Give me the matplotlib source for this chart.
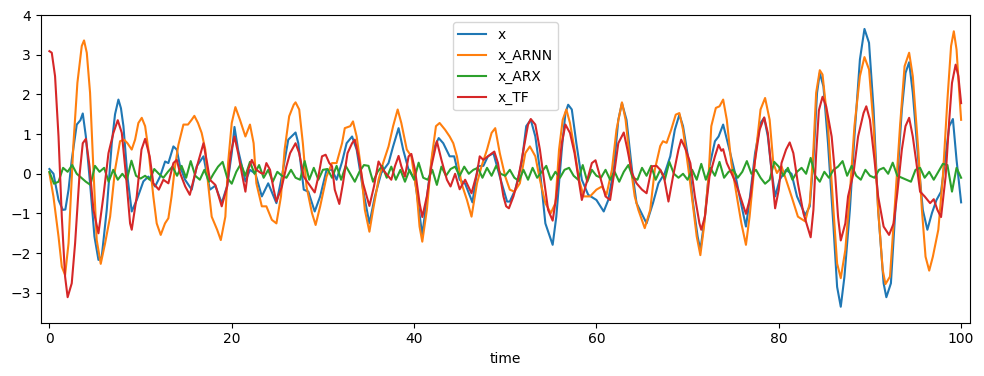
import numpy as np
import matplotlib
matplotlib.use('Agg')
import matplotlib.pyplot as plt

# x - odczytane punkty (czas, wartosc)
t_x = [0.0, 0.45, 1.0, 1.47, 1.75, 2.1, 2.45, 3.0, 3.4, 3.66, 4.0, 4.46, 4.94, 5.38, 5.74,
       6.29, 6.84, 7.2, 7.57, 7.85, 8.12, 8.56, 9.03, 9.58, 10.31, 10.86, 11.59, 12.14, 12.69,
       13.05, 13.6, 13.97, 14.33, 14.88, 15.61, 16.16, 16.9, 17.6, 18.2, 18.9, 19.5, 20.0, 20.3,
       20.7, 21.5, 22.0, 22.6, 23.3, 24.0, 24.9, 25.5, 26.2, 27.0, 27.3, 27.9, 28.4, 29.1, 29.7,
       30.4, 31.0, 31.5, 32.1, 32.6, 33.2, 33.7, 34.4, 35.1, 35.7, 36.4, 37.2, 37.7, 38.3, 38.8,
       39.4, 40.1, 40.9, 41.6, 42.1, 42.7, 43.2, 43.9, 44.4, 45.0, 45.6, 46.4, 47.0, 47.6, 48.1,
       48.7, 49.4, 50.2, 50.5, 51.1, 51.8, 52.3, 52.8, 53.3, 53.8, 54.4, 55.2, 55.6, 56.2, 56.6,
       56.9, 57.3, 57.8, 58.4, 59.1, 60.0, 60.8, 61.3, 61.9, 62.4, 62.8, 63.3, 63.9, 64.4, 65.5,
       66.2, 66.8, 67.5, 68.1, 68.6, 69.1, 69.5, 70.1, 70.6, 71.1, 71.4, 71.9, 72.4, 73.0, 73.4,
       73.9, 74.5, 75.2, 75.7, 76.4, 76.8, 77.4, 78.0, 78.4, 78.8, 79.2, 79.6, 80.1, 80.8, 81.4,
       82.0, 82.9, 83.4, 83.8, 84.2, 84.5, 84.9, 85.4, 86.0, 86.4, 86.8, 87.2, 87.8, 88.3, 88.9,
       89.4, 89.9, 90.4, 90.9, 91.5, 91.8, 92.3, 92.9, 93.5, 93.9, 94.3, 94.7, 95.3, 95.8, 96.3,
       96.8, 97.3, 97.8, 98.2, 98.7, 99.1, 99.5, 100.0]
x = [0.12, 0.0, -0.66, -0.91, -0.9, -0.4, 0.35, 1.24, 1.35, 1.52, 0.94, -0.24, -1.58, -2.17, -2.09,
     -0.91, 0.77, 1.5, 1.87, 1.65, 1.2, -0.07, -0.95, -0.66, -0.19, -0.07, -0.32, -0.07, 0.31,
     0.27, 0.69, 0.61, 0.19, -0.15, -0.4, 0.19, 0.44, -0.4, -0.3, -0.74, -0.3, 0.52, 1.18,
     0.6, -0.19, 0.1, 0.0, -0.57, -0.24, -0.74, -0.07, 0.86, 1.04, 0.77, -0.4, -0.45, -0.95, -0.57,
     0.1, 0.1, -0.15, 0.3, 0.77, 0.94, 0.61, -0.4, -1.25, -0.57, 0.02, 0.27, 0.69, 1.15, 0.61,
     0.1, -0.15, -1.55, -0.24, 0.61, 0.9, 0.77, 0.44, 0.44, -0.15, -0.25, -0.72, 0.19, 0.2, 0.44,
     0.52, -0.07, -0.7, -0.7, -0.4, 0.27, 1.2, 1.36, 0.94, 0.1, -1.25, -1.79, -1.08, 0.61, 1.53,
     1.74, 1.62, 0.77, -0.15, -0.53, -0.66, -0.95, -0.66, 0.1, 1.36, 1.78, 1.36, 0.1, -0.74, -1.25,
     -0.74, -0.24, 0.02, 0.44, 1.11, 1.49, 1.2, 0.35, -0.74, -1.58, -1.92, -1.08, 0.19, 0.82, 0.94,
     1.24, 0.69, 0.02, -0.57, -1.33, -0.66, 0.52, 1.28, 1.41, 0.94, 0.1, -0.57, -0.15, 0.1, 0.0,
     -0.57, -1.04, -0.82, 0.35, 2.04, 2.54, 2.2, 0.77, -1.33, -2.85, -3.35, -2.6, -0.91, 0.94, 2.88,
     3.65, 3.3, 1.62, -0.91, -2.76, -3.11, -2.76, -0.49, 1.62, 2.54, 2.81, 2.04, 0.35, -0.91, -1.41,
     -0.99, -0.66, -0.45, 0.27, 1.2, 1.38, 0.35, -0.72]

# x_ARNN
t_arnn = [0, 0.44, 1.0, 1.36, 1.72, 2.1, 2.64, 3.07, 3.55, 3.8, 4.1, 4.46, 4.83, 5.19, 5.63, 6.11,
          6.66, 7.2, 7.75, 8.19, 8.56, 9.03, 9.4, 9.76, 10.13, 10.5, 10.86, 11.4, 11.77, 12.21, 12.68,
          13.05, 13.4, 13.78, 14.15, 14.7, 15.2, 15.6, 15.9, 16.3, 16.7, 17.1, 17.4, 17.8, 18.4,
          18.8, 19.3, 19.6, 20.0, 20.4, 20.9, 21.5, 22.0, 22.4, 22.7, 23.3, 23.8, 24.4, 24.9, 25.4,
          25.8, 26.3, 26.8, 27.0, 27.4, 27.8, 28.2, 28.8, 29.2, 29.7, 30.4, 31.0, 31.5, 32.1, 32.4,
          33.0, 33.3, 33.7, 34.1, 34.6, 35.1, 35.5, 36.1, 36.6, 37.2, 37.7, 38.2, 38.6, 39.2, 39.7,
          40.3, 40.6, 40.9, 41.4, 41.9, 42.4, 42.8, 43.4, 43.9, 44.3, 44.7, 45.2, 45.8, 46.3, 46.9,
          47.4, 48.0, 48.5, 48.9, 49.4, 50.0, 50.5, 51.0, 51.6, 52.2, 52.7, 53.3, 53.8, 54.4, 55.0,
          55.5, 55.9, 56.3, 56.7, 57.1, 57.6, 58.1, 58.6, 59.3, 60.0, 60.6, 61.1, 61.7, 62.2, 62.8,
          63.2, 63.7, 64.2, 64.6, 65.3, 65.9, 66.4, 67.0, 67.3, 67.7, 68.2, 68.7, 69.1, 69.5, 70.1,
          70.6, 71.0, 71.4, 71.8, 72.3, 72.6, 73.1, 73.5, 73.9, 74.3, 74.8, 75.4, 75.9, 76.4, 76.8,
          77.4, 78.0, 78.5, 79.0, 79.4, 79.8, 80.3, 80.8, 81.4, 82.1, 82.9, 83.4, 83.8, 84.1, 84.5,
          84.8, 85.4, 86.0, 86.4, 86.8, 87.3, 87.8, 88.3, 88.9, 89.4, 89.9, 90.4, 90.9, 91.4, 91.7,
          92.2, 92.7, 93.3, 93.8, 94.3, 94.7, 95.3, 95.7, 96.1, 96.5, 96.9, 97.5, 98.0, 98.5, 98.9,
          99.2, 99.5, 99.8, 100.0]
x_arnn = [0.02, -0.57, -1.58, -2.34, -2.55, -1.75, 0.77, 2.29, 3.22, 3.36, 3.05, 2.04, 0.1, -1.67, -2.27, -1.75,
          -1.08, 0.1, 0.82, 0.86, 0.77, 0.61, 0.86, 1.28, 1.41, 1.2, 0.61, -0.57, -1.25, -1.54, -1.25,
          -1.12, -0.57, 0.19, 0.73, 1.24, 1.24, 1.36, 1.46, 1.28, 1.03, 0.61, -0.24, -1.08, -1.41,
          -1.67, -1.08, 0.27, 1.28, 1.68, 1.36, 0.94, 1.24, 0.77, -0.24, -0.82, -0.82, -1.16, -1.25, -0.57,
          0.61, 1.45, 1.74, 1.8, 1.62, 0.77, -0.32, -0.99, -1.29, -0.82, -0.07, 0.27, 0.27, 0.77, 1.15,
          1.2, 1.32, 0.94, 0.27, -0.91, -1.46, -0.91, -0.15, 0.27, 0.69, 1.2, 1.62, 1.28, 0.61, 0.44,
          -0.49, -1.33, -1.71, -0.91, 0.35, 1.2, 1.28, 1.11, 0.94, 0.77, 0.44, -0.24, -0.66, -1.08, -0.24,
          0.19, 0.61, 1.03, 1.15, 0.52, -0.07, -0.4, -0.45, -0.24, 0.52, 0.69, 0.44, -0.15, -0.74, -0.99,
          -0.74, 0.61, 1.36, 1.62, 1.28, 0.61, -0.15, -0.57, -0.57, -0.4, -0.32, -0.53, 0.1, 1.11, 1.8,
          1.36, 0.27, -0.57, -0.91, -1.37, -0.91, 0.1, 0.7, 0.82, 0.78, 1.11, 1.49, 1.53, 1.11, 0.1,
          -0.82, -1.58, -2.05, -1.33, -0.07, 1.2, 1.66, 1.7, 1.87, 1.36, 0.27, -0.57, -1.25, -1.79, -1.08,
          0.35, 1.62, 1.91, 1.36, 0.27, 0.02, 0.19, -0.15, -0.57, -1.08, -1.2, -0.74, 0.61, 2.04, 2.61,
          2.5, 1.2, -0.91, -2.26, -2.63, -1.92, -0.49, 1.2, 2.46, 2.94, 2.63, 1.2, -0.91, -2.42, -2.78,
          -2.59, -0.91, 1.2, 2.71, 3.05, 2.46, 0.61, -0.91, -2.09, -2.44, -2.09, -1.41, -0.07, 1.87, 3.22,
          3.59, 3.13, 2.04, 1.36]

# x_ARX - co 0.5
t_arx = np.arange(0, 100.5, 0.5)
x_arx = [0.05, -0.25, -0.2, 0.15, 0.05, 0.22, 0.0, -0.1, -0.2, -0.28,
         0.2, 0.05, 0.15, -0.2, 0.1, -0.15, 0.0, -0.15, 0.33, -0.05,
         -0.12, -0.05, -0.15, 0.12, 0.0, -0.1, 0.05, 0.18, -0.05, 0.2,
         -0.1, 0.32, -0.05, -0.15, 0.1, -0.2, 0.0, 0.18, 0.3, -0.1,
         -0.25, 0.05, 0.25, -0.05, 0.3, 0.0, 0.22, -0.1, 0.1, -0.2,
         0.05, -0.05, -0.1, 0.1, -0.1, -0.15, 0.32, -0.15, 0.15, -0.15,
         0.1, 0.12, -0.1, 0.2, -0.15, 0.2, 0.0, -0.2, 0.05, 0.22,
         0.2, -0.2, 0.05, 0.2, -0.1, 0.18, -0.15, 0.1, -0.2, 0.1,
         -0.15, 0.28, -0.1, -0.15, 0.1, -0.28, 0.18, -0.05, 0.12, 0.18,
         -0.05, 0.18, 0.0, 0.1, 0.15, -0.1, 0.15, -0.05, 0.2, 0.0,
         -0.05,
         0.1, -0.1, -0.18, 0.1, -0.15, 0.15, -0.1, 0.05, 0.2, -0.15,
         0.05, -0.1, 0.1, 0.15, -0.05, -0.15, 0.22, -0.2, 0.1, -0.05,
         -0.1, 0.1, -0.15, 0.05, -0.2, 0.05, 0.22, -0.1, -0.15, 0.15,
         -0.05, 0.2, -0.15, 0.1, -0.15, 0.3, 0.0, -0.1, 0.0, -0.15,
         0.1, -0.15, 0.25, -0.15, 0.15, -0.05, 0.3, -0.1, 0.05, 0.1,
         -0.1, 0.05,
         0.32, 0.0, 0.1, -0.1, -0.25, -0.15, 0.3, 0.18, -0.05, 0.15,
         -0.15, 0.05, 0.15, 0.0, 0.4, -0.05, -0.2, 0.05, -0.1, 0.1,
         0.18, 0.32, -0.05, 0.2, -0.05, -0.15, 0.1, -0.05, -0.1, 0.1,
         0.15, 0.0, 0.28, -0.05, -0.1, -0.15, -0.2, 0.1, 0.15, -0.1,
         0.05, -0.15, 0.05, 0.25, 0.22, -0.45, 0.15, -0.1]

# x_TF
t_tf = [0, 0.26, 0.62, 1.0, 1.36, 1.72, 2.0, 2.45, 2.82, 3.29, 3.66, 4.0, 4.4, 4.83, 5.38, 5.92,
        6.48, 7.02, 7.5, 7.94, 8.41, 8.85, 9.03, 9.58, 10.1, 10.5, 11.0, 11.4, 12.0, 12.5, 13.05,
        13.6, 13.97, 14.33, 14.9, 15.4, 15.9, 16.2, 16.5, 16.9, 17.3, 17.6, 18.2, 18.9, 19.5, 19.9,
        20.3, 20.7, 21.1, 21.5, 21.8, 22.2, 22.7, 23.2, 23.5, 23.8, 24.2, 24.6, 24.9, 25.5, 26.0,
        26.4, 27.0, 27.4, 27.9, 28.4, 29.1, 29.5, 29.9, 30.3, 30.7, 31.0, 31.3, 31.8, 32.2, 32.7,
        33.2, 33.5, 33.9, 34.4, 35.1, 35.6, 36.1, 36.6, 37.2, 37.5, 37.9, 38.3, 38.6, 39.0, 39.4,
        39.7, 40.1, 40.6, 40.9, 41.4, 41.9, 42.5, 43.0, 43.6, 44.0, 44.5, 45.0, 45.6, 46.3, 46.9,
        47.2, 47.6, 48.1, 48.8, 49.2, 49.8, 50.1, 50.4, 50.9, 51.4, 52.0, 52.5, 52.8, 53.3, 53.8,
        54.2, 54.7, 55.2, 55.6, 56.2, 56.6, 57.1, 57.6, 58.0, 58.4, 58.9, 59.5, 59.9, 60.4, 61.0,
        61.5, 62.0, 62.4, 63.0, 63.4, 63.9, 64.4, 65.0, 65.5, 66.1, 66.6, 67.0, 67.4, 67.9, 68.4,
        69.0, 69.3, 69.8, 70.3, 70.8, 71.3, 71.5, 71.9, 72.4, 73.0, 73.4, 73.7, 73.9, 74.3, 74.8,
        75.3, 75.9, 76.4, 76.9, 77.4, 77.9, 78.4, 78.8, 79.2, 79.6, 80.0, 80.3, 80.8, 81.2, 81.6,
        82.1, 82.7, 83.5, 83.8, 84.1, 84.4, 84.8, 85.2, 85.8, 86.2, 86.5, 86.8, 87.3, 87.6, 88.2,
        88.7, 89.3, 89.6, 90.0, 90.5, 90.9, 91.5, 92.1, 92.6, 93.0, 93.5, 93.9, 94.3, 94.7, 95.1,
        95.5, 96.0, 96.6, 97.0, 97.4, 97.8, 98.3, 98.7, 99.0, 99.4, 99.7, 100.0]
x_tf = [3.09, 3.05, 2.46, 0.94, -1.08, -2.59, -3.11, -2.76, -1.75, -0.07, 0.77, 0.88, 0.19, -0.91, -1.5, -0.57,
        0.52, 1.03, 1.35, 1.03, -0.07, -1.25, -1.41, -0.57, 0.61, 0.88, 0.44, -0.24, -0.4, -0.15, -0.24,
        0.27, 0.35, 0.02, -0.32, -0.53, -0.07, 0.2, 0.44, 0.77, 0.27, -0.15, -0.28, -0.82, -0.32, 0.52,
        0.94, 0.52, 0.02, -0.45, 0.1, 0.35, 0.1, 0.02, 0.0, 0.27, 0.1, -0.4, -0.7, -0.32, 0.19,
        0.52, 0.77, 0.52, -0.07, -0.24, -0.47, -0.07, 0.44, 0.48, 0.27, 0.19, -0.4, -0.76, -0.24, 0.52,
        0.77, 0.86, 0.44, -0.24, -0.81, -0.32, 0.31, 0.1, -0.07, -0.15, 0.19, 0.45, 0.19, -0.07, 0.44,
        0.5, 0.1, -0.74, -1.09, -0.57, 0.19, 0.82, 0.35, -0.15, -0.32, 0.0, -0.39, -0.15, -0.49, 0.02,
        0.44, 0.35, 0.44, 0.56, 0.27, -0.57, -0.82, -0.87, -0.57, -0.15, 0.61, 1.24, 1.38, 1.24, 0.61,
        -0.07, -0.91, -1.18, -0.57, 0.77, 1.24, 1.03, 0.52, -0.07, -0.66, -0.24, 0.27, 0.34, -0.07, -0.57,
        -0.66, 0.1, 0.77, 1.04, 0.61, 0.02, -0.24, -0.4, -0.49, 0.19, 0.2, 0.1, -0.07, -0.7, -0.07,
        0.61, 0.86, 0.61, 0.27, -0.57, -1.25, -1.41, -1.08, -0.07, 0.44, 0.73, 0.58, 0.62, 0.27, 0.02,
        -0.24, -0.66, -1.01, -0.57, 0.35, 1.11, 1.42, 1.03, 0.1, -0.87, -0.4, 0.27, 0.61, 0.79, 0.52,
        -0.24, -0.99, -1.6, -0.91, 0.5, 1.6, 1.94, 1.7, 0.94, -0.07, -1.08, -1.68, -1.25, -0.57, 0.02,
        0.94, 1.53, 1.7, 1.36, 0.35, -0.57, -1.33, -1.54, -1.25, -0.49, 0.61, 1.2, 1.41, 0.94, 0.27,
        -0.45, -0.57, -0.74, -0.64, -0.91, -1.09, -0.07, 1.36, 2.29, 2.75, 2.46, 1.78]

fig = plt.figure(figsize=(9.84, 3.76), dpi=100)
ax = fig.add_subplot(111)
ax.plot(t_x, x, label='x')
ax.plot(t_arnn, x_arnn, label='x_ARNN')
ax.plot(t_arx, x_arx, label='x_ARX')
ax.plot(t_tf, x_tf, label='x_TF')
ax.set_xlim(-0.95, 101)
ax.set_ylim(-3.75, 4.0)
ax.set_xlabel('time')
ax.legend(loc='upper center')
plt.subplots_adjust(left=0.0414, right=0.986, top=0.960, bottom=0.142)
plt.savefig('out.png', dpi=100)
